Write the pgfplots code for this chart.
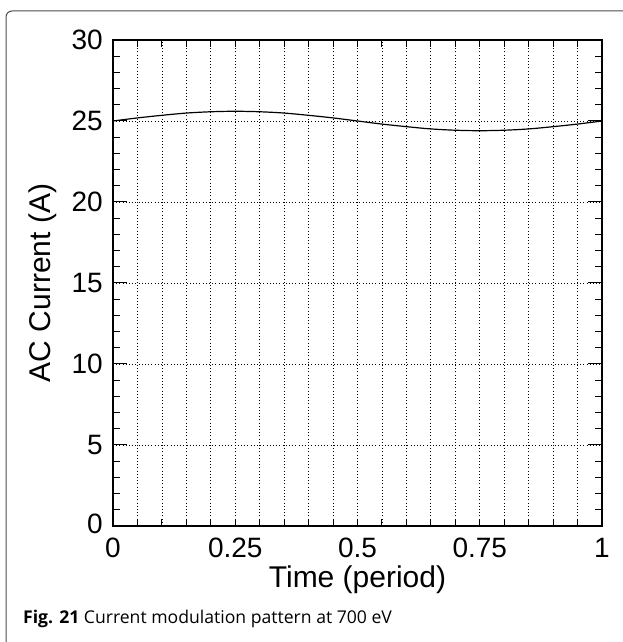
\documentclass[border=0pt]{standalone}
\usepackage{pgfplots}
\pgfplotsset{compat=1.18}
\usepackage{fontspec}
\setmainfont{Liberation Sans}
\newfontfamily\capfont{Open Sans}
\begin{document}
\begin{tikzpicture}
\useasboundingbox (0pt,0pt) rectangle (622pt,642pt);
\draw[line width=1pt, color=black!70, rounded corners=6pt] (6pt,-5pt) -- (6pt,631pt) -- (630pt,631pt);
\begin{axis}[
  at={(113pt,116pt)}, anchor=south west,
  scale only axis, width=489pt, height=486pt,
  xmin=0, xmax=1, ymin=0, ymax=30,
  xtick={0,0.25,0.5,0.75,1},
  xticklabels={0,0.25,0.5,0.75,1},
  minor x tick num=4,
  ytick={0,5,10,15,20,25,30},
  yticklabels={\raisebox{5pt}{0},5,10,15,20,25,30},
  minor y tick num=4,
  xmajorgrids, xminorgrids, ymajorgrids,
  major grid style={black, line width=0.8pt, dash pattern=on 1pt off 2.2pt},
  minor grid style={black, line width=0.8pt, dash pattern=on 1pt off 2.2pt},
  tick align=inside,
  major tick length=7pt, minor tick length=7pt,
  every major y tick/.append style={/pgfplots/major tick length=14pt},
  tick style={black, line width=1pt},
  axis line style={line width=2pt},
  /pgf/number format/assume math mode=true,
  ticklabel style={font=\fontsize{28}{30}\selectfont, inner sep=0pt},
  xticklabel style={anchor=base, yshift=-31pt},
  yticklabel style={anchor=east, xshift=-10pt},
  xlabel={Time (period)},
  ylabel={AC Current (A)},
  every axis x label/.style={at={(axis description cs:0.5,0)}, anchor=base, yshift=-61pt, font=\fontsize{30}{32}\selectfont, inner sep=0pt},
  every axis y label/.style={at={(axis description cs:-0.143,0.5)}, rotate=90, anchor=center, font=\fontsize{30}{32}\selectfont, inner sep=0pt},
]
\addplot[black, line width=1.2pt, smooth] coordinates {
(0,25) (0.05,25.19) (0.1,25.35) (0.15,25.49) (0.2,25.57) (0.25,25.6)
(0.3,25.57) (0.35,25.49) (0.4,25.35) (0.45,25.19) (0.5,25)
(0.55,24.81) (0.6,24.65) (0.65,24.51) (0.7,24.43) (0.75,24.4)
(0.8,24.43) (0.85,24.51) (0.9,24.65) (0.95,24.81) (1,25)
};
\end{axis}
\node[anchor=base west, inner sep=0pt, font=\capfont\fontsize{17.6}{20}\selectfont] at (23pt,18pt) {\textbf{Fig. 21} Current modulation pattern at 700 eV};
\end{tikzpicture}
\end{document}
